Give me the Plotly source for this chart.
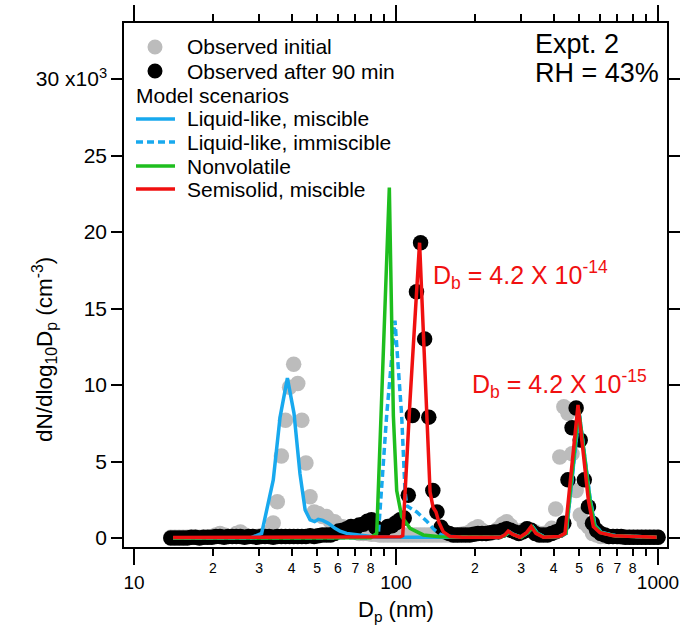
import plotly.graph_objects as go

# ---------------- data (dN/dlog10Dp in units of 10^3 cm^-3) ----------------
diam_nm = [
    13.82, 14.33, 14.86, 15.40, 15.96, 16.55, 17.15, 17.78, 18.43, 19.11,
    19.81, 20.54, 21.29, 22.07, 22.88, 23.71, 24.58, 25.48, 26.42, 27.38,
    28.39, 29.43, 30.51, 31.62, 32.78, 33.98, 35.23, 36.52, 37.86, 39.24,
    40.68, 42.17, 43.71, 45.32, 46.98, 48.70, 50.48, 52.33, 54.25, 56.23,
    58.29, 60.43, 62.64, 64.94, 67.32, 69.78, 72.34, 74.99, 77.74, 80.58,
    83.54, 86.60, 89.77, 93.06, 96.47, 100.0, 103.7, 107.5, 111.4, 115.5,
    119.7, 124.1, 128.6, 133.4, 138.2, 143.3, 148.6, 154.0, 159.6, 165.5,
    171.5, 177.8, 184.3, 191.1, 198.1, 205.4, 212.9, 220.7, 228.8, 237.1,
    245.8, 254.8, 264.2, 273.8, 283.9, 294.3, 305.1, 316.2, 327.8, 339.8,
    352.3, 365.2, 378.6, 392.4, 406.8, 421.7, 437.1, 453.2, 469.8, 487.0,
    504.8, 523.3, 542.5, 562.3, 582.9, 604.3, 626.4, 649.4, 673.2, 697.8,
    723.4, 749.9, 777.4, 805.8, 835.4, 866.0, 897.7, 930.6, 964.7, 1000.0,
]

observed_initial = [
    0.05, 0.05, 0.05, 0.05, 0.05, 0.05, 0.05, 0.05, 0.05, 0.05,
    0.1, 0.2, 0.3, 0.2, 0.1, 0.1, 0.3, 0.4, 0.2, 0.1,
    0.1, 0.1, 0.15, 0.2, 0.4, 0.98, 2.37, 5.36, 7.7, 9.85,
    11.35, 10.1, 7.7, 4.9, 2.7, 1.7, 1.6, 1.4, 1.4, 1.07,
    1.07, 0.74, 0.74, 0.6, 0.52, 0.4, 0.3, 0.3, 0.3, 0.25,
    0.25, 0.2, 0.2, 0.2, 0.2, 0.2, 0.2, 0.2, 0.2, 0.2,
    0.2, 0.2, 0.2, 0.2, 0.2, 0.2, 0.2, 0.2, 0.2, 0.2,
    0.2, 0.25, 0.3, 0.4, 0.6, 0.74, 0.5, 0.3, 0.3, 0.4,
    0.6, 0.9, 1.07, 0.8, 0.5, 0.4, 0.5, 0.6, 0.5, 0.4,
    0.3, 0.3, 0.3, 0.63, 1.9, 5.3, 8.58, 8.15, 5.5, 3.1,
    1.5, 1.0, 0.74, 0.3, 0.2, 0.1, 0.1, 0.1, 0.1, 0.1,
    0.05, 0.05, 0.05, 0.05, 0.05, 0.05, 0.05, 0.05, 0.05, 0.05,
]

observed_after_90min = [
    0.0, 0.0, 0.0, 0.0, 0.0, 0.05, 0.05, 0.0, 0.05, 0.05,
    0.05, 0.1, 0.1, 0.05, 0.1, 0.1, 0.1, 0.1, 0.05, 0.1,
    0.1, 0.05, 0.1, 0.1, 0.1, 0.05, 0.1, 0.1, 0.1, 0.1,
    0.1, 0.1, 0.1, 0.1, 0.15, 0.1, 0.15, 0.2, 0.2, 0.2,
    0.3, 0.45, 0.5, 0.6, 0.75, 0.6, 0.85, 0.9, 1.1, 1.2,
    0.7, 0.5, 0.5, 0.75, 0.8, 1.0, 1.2, 1.3, 2.8, 8.0,
    16.1, 19.3, 13.0, 7.9, 3.1, 1.7, 0.7, 0.4, 0.3, 0.2,
    0.2, 0.2, 0.2, 0.2, 0.25, 0.3, 0.3, 0.3, 0.35, 0.4,
    0.4, 0.5, 0.6, 0.5, 0.4, 0.3, 0.4, 0.6, 0.5, 0.3,
    0.2, 0.2, 0.2, 0.3, 0.4, 0.5, 0.96, 3.8, 7.2, 8.5,
    6.4, 3.8, 2.05, 0.96, 0.5, 0.3, 0.2, 0.1, 0.1, 0.1,
    0.1, 0.05, 0.05, 0.05, 0.05, 0.05, 0.05, 0.05, 0.05, 0.05,
]

# model scenarios
liquid_miscible_d = [14.1, 28.0, 30.7, 34.0, 36.1, 38.5, 40.8, 43.0, 45.0, 47.0, 48.9, 50.5,
                     52.5, 55.2, 58.5, 61.1, 64.8, 72.9, 85.0, 250.0, 262.0, 271.0, 284.0,
                     300.0, 318.0, 333.0, 347.0, 370.0, 420.0, 446.0, 500.0, 550.0, 575.0,
                     610.0, 690.0, 988.0]
liquid_miscible_v = [0.0, 0.02, 0.3, 3.8, 7.9, 10.45, 8.15, 4.2, 1.83, 1.18, 1.07, 1.22,
                     1.15, 0.96, 0.63, 0.45, 0.3, 0.2, 0.05, 0.05, 0.2, 0.4, 0.2,
                     0.05, 0.35, 0.7, 0.3, 0.05, 0.1, 0.3, 8.2, 2.6, 0.8,
                     0.35, 0.15, 0.05]

liquid_immiscible_d = [14.1, 80.0, 85.6, 92.1, 99.1, 105.1, 108.2, 109.9, 115.0, 120.0, 131.0,
                       138.8, 147.2, 156.1, 200.0, 250.0, 262.0, 271.0, 284.0, 300.0, 318.0,
                       333.0, 347.0, 370.0, 420.0, 446.0, 500.0, 550.0, 575.0, 610.0, 690.0,
                       988.0]
liquid_immiscible_v = [0.0, 0.02, 0.2, 8.0, 14.2, 8.0, 3.1, 2.1, 1.9, 1.7, 1.1,
                       0.6, 0.25, 0.1, 0.05, 0.05, 0.2, 0.4, 0.2, 0.05, 0.35,
                       0.7, 0.3, 0.05, 0.1, 0.3, 8.2, 2.6, 0.8, 0.35, 0.15,
                       0.05]

nonvolatile_d = [14.1, 80.0, 84.4, 88.2, 94.3, 97.7, 100.6, 105.1, 113.1, 127.1, 147.2,
                 250.0, 262.0, 270.0, 282.0, 300.0, 318.0, 332.0, 345.0, 368.0, 420.0,
                 445.0, 498.0, 548.0, 572.0, 605.0, 680.0, 988.0]
nonvolatile_v = [0.0, 0.02, 0.3, 9.0, 22.9, 8.0, 3.1, 1.4, 0.63, 0.2, 0.08,
                 0.05, 0.2, 0.4, 0.2, 0.05, 0.35, 0.7, 0.3, 0.05, 0.1,
                 0.3, 8.4, 2.6, 0.8, 0.35, 0.15, 0.05]

semisolid_d = [14.1, 50.0, 100.0, 104.0, 106.1, 113.1, 123.0, 131.0, 134.9, 138.5, 142.1,
               146.0, 151.6, 160.7, 180.0, 250.0, 260.0, 268.0, 278.0, 297.0, 315.0,
               328.0, 342.0, 365.0, 420.0, 441.6, 495.0, 542.0, 566.5, 600.0, 674.6, 988.0]
semisolid_v = [0.03, 0.03, 0.05, 0.08, 0.15, 9.0, 19.3, 7.5, 3.0, 2.0, 1.7,
               1.0, 0.4, 0.1, 0.05, 0.05, 0.2, 0.45, 0.25, 0.05, 0.35,
               0.75, 0.3, 0.05, 0.1, 0.3, 8.7, 2.5, 0.74, 0.35, 0.15, 0.05]

x_major_ticks = [10, 100, 1000]
x_major_labels = ["10", "100", "1000"]
x_minor_ticks = [20, 30, 40, 50, 60, 70, 80, 90, 200, 300, 400, 500, 600, 700, 800, 900]
x_minor_labels = ["2", "3", "4", "5", "6", "7", "8", "", "2", "3", "4", "5", "6", "7", "8", ""]
y_ticks = [0, 5, 10, 15, 20, 25, 30]
y_labels = ["0", "5", "10", "15", "20", "25", "30 x10<sup>3</sup>"]

legend_rows = ["Observed initial", "Observed after 90 min", "Model scenarios",
               "Liquid-like, miscible", "Liquid-like, immiscible", "Nonvolatile",
               "Semisolid, miscible"]

# ---------------- styling ----------------
GREY = "rgb(188,188,188)"
BLACK = "black"
BLUE = "#18A9EE"
GREEN = "#1EBE1E"
RED = "#F01010"
FONT = "Arial, Liberation Sans, sans-serif"
LW = 3.5
DASH = "7px,4px"

W, H = 683, 630
L, R, T, B = 124, 16, 23, 83
PW, PH = W - L - R, H - T - B


def px_x(px):
    return (px - L) / PW


def px_y(py):
    return (H - B - py) / PH


X_RANGE = [0.9618, 3.0343]
Y_RANGE = [-0.588, 33.66]
MSIZE = 15.5

fig = go.Figure()
fig.add_trace(go.Scatter(x=diam_nm, y=observed_initial, mode="markers",
                         marker=dict(color=GREY, size=MSIZE, line=dict(width=0)),
                         showlegend=False, hoverinfo="skip"))
fig.add_trace(go.Scatter(x=diam_nm, y=observed_after_90min, mode="markers",
                         marker=dict(color=BLACK, size=MSIZE, line=dict(width=0)),
                         showlegend=False, hoverinfo="skip"))
fig.add_trace(go.Scatter(x=liquid_miscible_d, y=liquid_miscible_v, mode="lines",
                         line=dict(color=BLUE, width=LW), showlegend=False))
fig.add_trace(go.Scatter(x=liquid_immiscible_d, y=liquid_immiscible_v, mode="lines",
                         line=dict(color=BLUE, width=LW, dash=DASH), showlegend=False))
fig.add_trace(go.Scatter(x=nonvolatile_d, y=nonvolatile_v, mode="lines",
                         line=dict(color=GREEN, width=LW), showlegend=False))
fig.add_trace(go.Scatter(x=semisolid_d, y=semisolid_v, mode="lines",
                         line=dict(color=RED, width=LW), showlegend=False))
# empty trace to carry the minor-label axis
fig.add_trace(go.Scatter(x=[], y=[], xaxis="x2", yaxis="y", showlegend=False, hoverinfo="skip"))

fig.update_layout(
    template="none",
    width=W, height=H,
    margin=dict(l=L, r=R, t=T, b=B, autoexpand=False),
    paper_bgcolor="white", plot_bgcolor="white",
    font=dict(family=FONT, color="black"),
    showlegend=False,
    xaxis=dict(type="log", range=X_RANGE, tickmode="array", tickvals=x_major_ticks,
               ticktext=x_major_labels, ticks="outside", ticklen=16, tickwidth=1.5,
               tickcolor="black", showline=True, linecolor="black", linewidth=1.5,
               mirror="ticks", showgrid=False, zeroline=False, automargin=False,
               tickfont=dict(size=19, family=FONT), ticklabelstandoff=1),
    xaxis2=dict(type="log", range=X_RANGE, overlaying="x", anchor="y", side="bottom",
                tickmode="array", tickvals=x_minor_ticks, ticktext=x_minor_labels,
                ticks="outside", ticklen=8, tickwidth=1.5, tickcolor="black",
                showline=False, mirror="ticks", showgrid=False, zeroline=False,
                automargin=False, tickfont=dict(size=14, family=FONT)),
    yaxis=dict(range=Y_RANGE, tickmode="array", tickvals=y_ticks, ticktext=y_labels,
               ticks="outside", ticklen=11, tickwidth=1.5, tickcolor="black",
               showline=True, linecolor="black", linewidth=1.5, mirror="ticks",
               showgrid=False, zeroline=False, automargin=False,
               tickfont=dict(size=21, family=FONT)),
)

ann = []
# axis titles
ann.append(dict(text="dN/dlog<sub>10</sub>D<sub>p</sub> (cm<sup>-3</sup>)", xref="paper", yref="paper",
                x=px_x(44), y=px_y(350), xanchor="center", yanchor="middle", textangle=-90,
                showarrow=False, font=dict(size=22.5, family=FONT)))
ann.append(dict(text="D<sub>p</sub> (nm)", xref="paper", yref="paper",
                x=px_x(396), y=px_y(611), xanchor="center", yanchor="middle",
                showarrow=False, font=dict(size=22, family=FONT)))
# experiment text
ann.append(dict(text="Expt. 2", xref="paper", yref="paper", x=px_x(533), y=px_y(44),
                xanchor="left", yanchor="middle", showarrow=False, font=dict(size=27, family=FONT)))
ann.append(dict(text="RH = 43%", xref="paper", yref="paper", x=px_x(533), y=px_y(73),
                xanchor="left", yanchor="middle", showarrow=False, font=dict(size=27, family=FONT)))
# Db labels
ann.append(dict(text="D<sub>b</sub> = 4.2 X 10<sup>-14</sup>", xref="paper", yref="paper",
                x=px_x(431), y=px_y(275), xanchor="left", yanchor="middle", showarrow=False,
                font=dict(size=25, family=FONT, color=RED)))
ann.append(dict(text="D<sub>b</sub> = 4.2 X 10<sup>-15</sup>", xref="paper", yref="paper",
                x=px_x(470), y=px_y(384), xanchor="left", yanchor="middle", showarrow=False,
                font=dict(size=25, family=FONT, color=RED)))

# manual legend
row_y = [47, 71, 95, 119, 142, 166, 189]
for i, label in enumerate(legend_rows):
    xpos = 134 if i == 2 else 185
    ann.append(dict(text=label, xref="paper", yref="paper", x=px_x(xpos), y=px_y(row_y[i]),
                    xanchor="left", yanchor="middle", showarrow=False,
                    font=dict(size=21, family=FONT)))
fig.update_layout(annotations=ann)

shapes = []
for i, col in [(0, GREY), (1, BLACK)]:
    shapes.append(dict(type="circle", xref="paper", yref="paper",
                       xsizemode="pixel", ysizemode="pixel",
                       xanchor=px_x(155), yanchor=px_y(row_y[i]),
                       x0=-7.5, x1=7.5, y0=-7.5, y1=7.5, fillcolor=col, line=dict(width=0)))
for i, col, dash in [(3, BLUE, "solid"), (4, BLUE, DASH), (5, GREEN, "solid"), (6, RED, "solid")]:
    shapes.append(dict(type="line", xref="paper", yref="paper",
                       x0=px_x(136), x1=px_x(175), y0=px_y(row_y[i]), y1=px_y(row_y[i]),
                       line=dict(color=col, width=LW, dash=dash)))
fig.update_layout(shapes=shapes)

fig.write_html("out.html")
